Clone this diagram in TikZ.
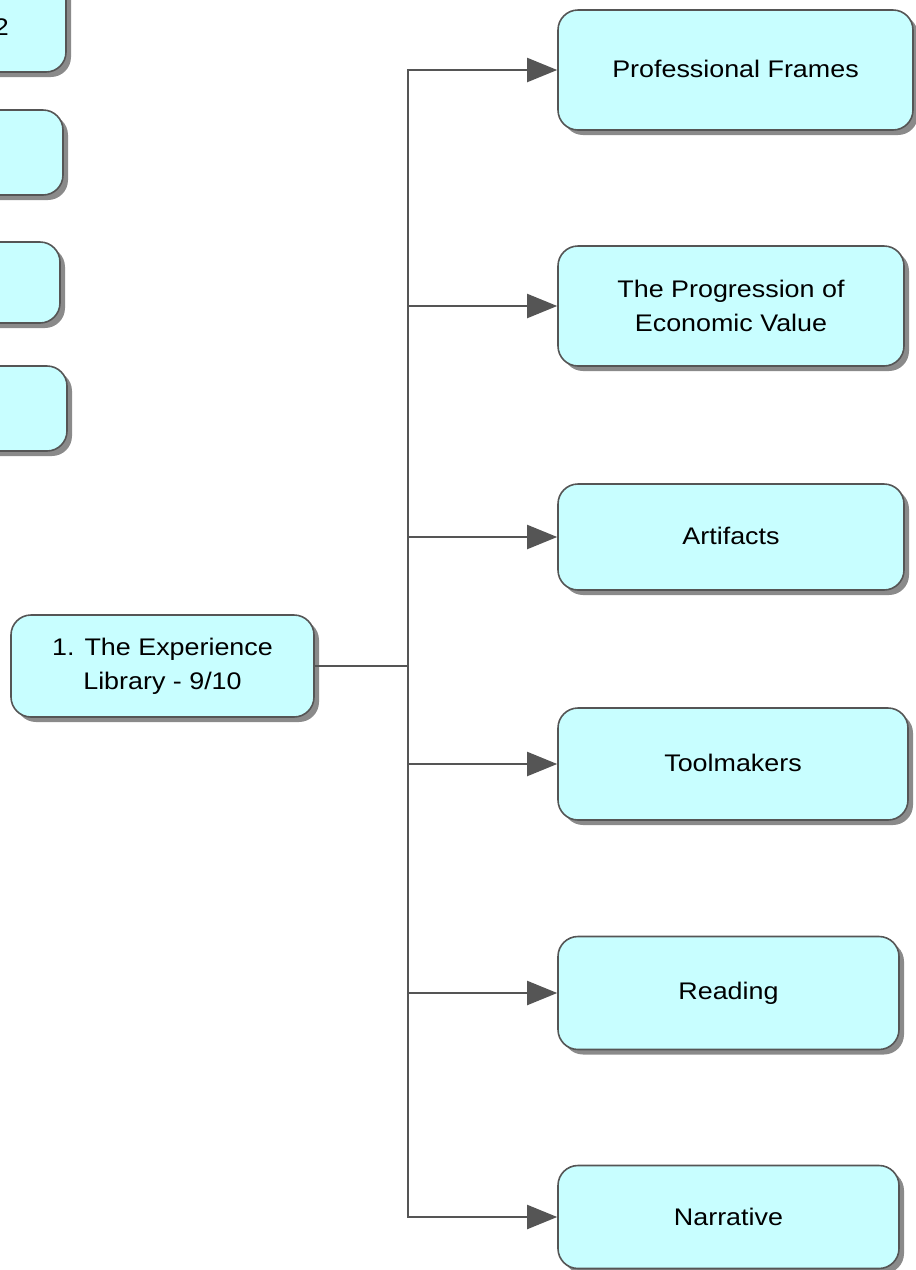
\documentclass[tikz,border=0pt]{standalone}
\usepackage{fontspec}
\setmainfont{Liberation Sans}[FakeStretch=1.12]
\usetikzlibrary{arrows.meta,shadows}
\definecolor{boxfill}{HTML}{C8FEFF}
\definecolor{boxline}{HTML}{555555}
\definecolor{shad}{HTML}{8A8A8A}
\definecolor{conn}{HTML}{555555}
\tikzset{
  topic/.style={draw=boxline, line width=1.6pt, fill=boxfill, rounded corners=20pt,
    align=center, inner sep=0pt, font=\fontsize{24}{34}\selectfont,
    drop shadow={shadow xshift=5pt, shadow yshift=-5pt, fill=shad, opacity=1}},
  link/.style={draw=conn, line width=2pt},
  arr/.style={draw=conn, line width=2pt, -{Triangle[length=30pt,width=24pt,fill=conn]}},
  lbl/.style={inner sep=0pt, font=\fontsize{24}{34}\selectfont}
}
\begin{document}
\begin{tikzpicture}[x=1pt,y=-1pt]
\useasboundingbox (0,0) rectangle (916,1270);
% left cut-off boxes
\node[topic, minimum width=300pt, minimum height=100pt] (l1) at (-84,22) {};
\node[lbl, anchor=east] (l1t) at (9,27) {2};
\node[topic, minimum width=300pt, minimum height=85pt] (l2) at (-87,152.5) {};
\node[topic, minimum width=300pt, minimum height=81pt] (l3) at (-90,282.5) {};
\node[topic, minimum width=300pt, minimum height=85pt] (l4) at (-83,408.5) {};
% main
\node[topic, minimum width=303pt, minimum height=102pt] (main) at (162.5,666) {1. The Experience\\Library - 9/10};
% children
\node[topic, minimum width=355pt, minimum height=120pt] (pf) at (735.5,70) {\raisebox{2pt}{Professional Frames}};
\node[topic, minimum width=346pt, minimum height=120pt] (pev) at (731,306) {The Progression of\\Economic Value};
\node[topic, minimum width=346pt, minimum height=106pt] (art) at (731,537) {\raisebox{2pt}{Artifacts}};
\node[topic, minimum width=350pt, minimum height=112pt] (tool) at (733,764) {\raisebox{2pt}{Toolmakers}};
\node[topic, minimum width=341pt, minimum height=113pt] (read) at (728.5,993) {Reading};
\node[topic, minimum width=341pt, minimum height=103pt] (narr) at (728.5,1217) {Narrative};
% connectors
\coordinate (j) at (408,666);
\draw[link] (main.east) -- (j);
\foreach \t in {pf,pev,art,tool,read,narr}{
  \draw[arr] (j) |- (\t.west);
}
\end{tikzpicture}
\end{document}
